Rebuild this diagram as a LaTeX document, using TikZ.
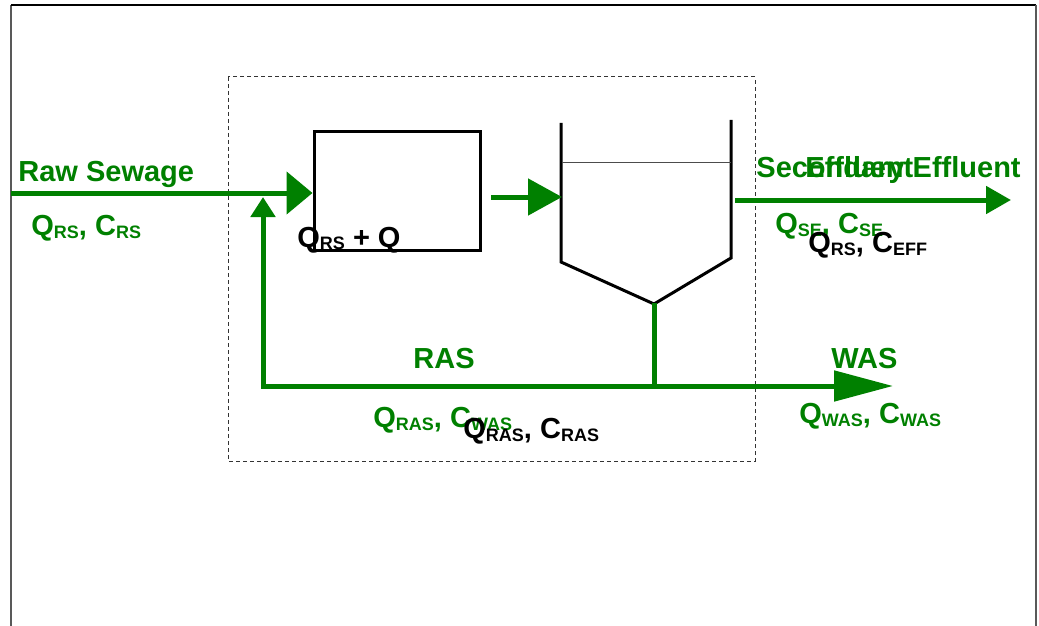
\documentclass[tikz,border=0pt]{standalone}
\usepackage{fontspec}
\setmainfont{Liberation Sans}
\usetikzlibrary{arrows.meta}
\definecolor{flowgreen}{RGB}{0,128,0}
\newcommand{\sbs}[1]{\raisebox{-1.5pt}{\fontsize{9}{10}\selectfont #1}}
\tikzset{
  flow/.style={draw=flowgreen, line width=2.5pt},
  wall/.style={draw=black, line width=1.5pt},
  lbl/.style={anchor=base west, inner sep=0pt, font=\bfseries\fontsize{14.5}{16}\selectfont, text=flowgreen},
  blk/.style={lbl, text=black}
}
\begin{document}
\begin{tikzpicture}[x=0.5pt,y=-0.5pt]
        \useasboundingbox (0,0) rectangle (1039,626);
        % page frame and control volume
        \draw [gray!70!black,line width=1pt] (11,626) -- (11,5);
        \draw [black,line width=0.6pt] (11,5) -- (1036,5);
        \draw [gray!70!black,line width=1pt] (1036,5) -- (1036,626);
        \draw [black!80,line width=0.5pt,dash pattern=on 2pt off 1.5pt] (228,77) rectangle (755,461);
        % aeration tank
        \node [wall,minimum width=83pt,minimum height=59pt,inner sep=0pt] (reactor) at (397,191) {};
        % clarifier
        \draw [wall] (561,123) -- (561,262) -- (654,304) -- (731,258) -- (731,120);
        \draw [black!70,line width=0.5pt] (562,163) -- (731,163);
        \coordinate (cone) at (654,303);
        % flow points
        \coordinate (rsin) at (11,193);
        \coordinate (mix) at (263,197);
        \coordinate (rascorner) at (263,386);
        \coordinate (wasend) at (893,386);
        \coordinate (rout) at (491,197);
        \coordinate (sin) at (562,197);
        \coordinate (sout) at (735,200);
        \coordinate (effend) at (1011,200);
        % flows
        \draw [flow,-{Triangle[length=13pt,width=21pt]}] (rsin) -- (rsin -| reactor.west);
        \draw [flow,{Triangle[length=10pt,width=12pt]}-{Triangle[length=29.5pt,width=15pt]}] (mix) -- (rascorner) -- (wasend);
        \draw [flow] (cone) -- (cone |- rascorner);
        \draw [flow,-{Triangle[length=17pt,width=18pt]}] (rout) -- (sin);
        \draw [flow,-{Triangle[length=12.5pt,width=13.5pt]}] (sout) -- (effend);
        % labels
        \node [lbl] (rawsewage) at (18,182) {Raw Sewage};
        \node [lbl] (qrs) at (31,235) {Q\sbs{RS}, C\sbs{RS}};
        \node [blk] (qmix) at (297,247) {Q\sbs{RS} + Q};
        \node [lbl] (secondary) at (756,177) {Secondary Effluent};
        \node [lbl] (effluent) at (805,177) {Effluent};
        \node [lbl] (qse) at (775,234) {Q\sbs{SE}, C\sbs{SE}};
        \node [blk] (qeff) at (808,252) {Q\sbs{RS}, C\sbs{EFF}};
        \node [lbl] (ras) at (413,368) {RAS};
        \node [lbl] (qras) at (373,427) {Q\sbs{RAS}, C\sbs{WAS}};
        \node [blk] (qrasblk) at (463,438) {Q\sbs{RAS}, C\sbs{RAS}};
        \node [lbl] (was) at (831,368) {WAS};
        \node [lbl] (qwas) at (799,423) {Q\sbs{WAS}, C\sbs{WAS}};
\end{tikzpicture}
\end{document}
